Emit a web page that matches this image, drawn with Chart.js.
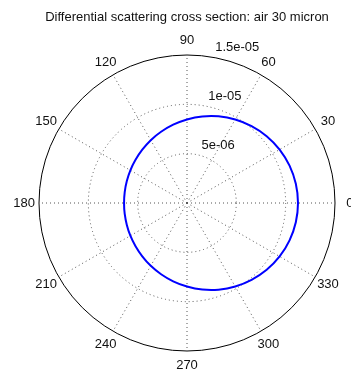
<!DOCTYPE html>
<html>
<head>
<meta charset="utf-8">
<script src="https://cdn.jsdelivr.net/npm/chart.js@4/dist/chart.umd.min.js"></script>
<style>
  html, body { margin: 0; padding: 0; background: #ffffff; }
  #wrap { width: 351px; height: 373px; }
</style>
</head>
<body>
<div id="wrap"><canvas id="polar" width="351" height="373"></canvas></div>
<script>
// Scattering angle (degrees, counter-clockwise from the +x axis)
const angles = [0, 10, 20, 30, 40, 50, 60, 70, 80, 90, 100, 110, 120, 130, 140, 150, 160, 170,
                180, 190, 200, 210, 220, 230, 240, 250, 260, 270, 280, 290, 300, 310, 320, 330, 340, 350];

// Differential scattering cross section at each angle
const crossSection = [
  1.125e-05, 1.120e-05, 1.106e-05, 1.084e-05, 1.054e-05, 1.018e-05, 9.78e-06, 9.35e-06, 8.91e-06,
  8.47e-06, 8.06e-06, 7.68e-06, 7.35e-06, 7.05e-06, 6.81e-06, 6.63e-06, 6.49e-06, 6.41e-06,
  6.38e-06, 6.41e-06, 6.49e-06, 6.63e-06, 6.81e-06, 7.05e-06, 7.35e-06, 7.68e-06, 8.06e-06,
  8.47e-06, 8.91e-06, 9.35e-06, 9.78e-06, 1.018e-05, 1.054e-05, 1.084e-05, 1.106e-05, 1.120e-05
];

// Spoke angles that carry a label
const spokeAngles = [0, 30, 60, 90, 120, 150, 180, 210, 240, 270, 300, 330];

// Radial rings and their labels
const ringValues = [5e-06, 1e-05, 1.5e-05];
const ringLabels = ['5e-06', '1e-05', '1.5e-05'];

const rMax = 1.5e-05;
const rStep = 5e-06;
const FONT = "'Liberation Sans', Arial, Helvetica, sans-serif";

// The radial scale runs clockwise, so walk the angle list backwards from 0°
const n = angles.length;
const order = angles.map((_, i) => (n - i) % n);
const chartLabels = order.map(k => String(angles[k]));
const chartData = order.map(k => crossSection[k]);

function angleOfIndex(i) { return angles[order[i]]; }

// Angle labels around the rim and ring labels along the 82° ray
const polarLabels = {
  id: 'polarLabels',
  afterDraw(chart) {
    const scale = chart.scales.r;
    const ctx = chart.ctx;
    ctx.save();
    ctx.fillStyle = '#111111';
    ctx.font = '13px ' + FONT;
    ctx.textAlign = 'center';
    ctx.textBaseline = 'middle';
    const rim = scale.getDistanceFromCenterForValue(rMax) * 1.1;
    spokeAngles.forEach(a => {
      const idx = order.findIndex(k => angles[k] === a);
      const p = scale.getPointPosition(idx, rim);
      ctx.fillText(String(a), p.x, p.y);
    });
    ctx.textAlign = 'left';
    ctx.textBaseline = 'bottom';
    const tilt = -82 * Math.PI / 180;
    ringValues.forEach((v, i) => {
      const d = scale.getDistanceFromCenterForValue(v + rStep / 20);
      const p = scale.getPointPosition(0, d, tilt);
      ctx.fillText('  ' + ringLabels[i], p.x, p.y);
    });
    ctx.restore();
  }
};

new Chart(document.getElementById('polar'), {
  type: 'radar',
  data: {
    labels: chartLabels,
    datasets: [{
      data: chartData,
      borderColor: '#0000ff',
      borderWidth: 2,
      pointRadius: 0,
      pointHoverRadius: 0,
      fill: false,
      tension: 0.3
    }]
  },
  options: {
    responsive: false,
    animation: false,
    events: [],
    layout: { padding: { left: 39, right: 16, top: 0, bottom: 22 } },
    plugins: {
      legend: { display: false },
      tooltip: { enabled: false },
      title: {
        display: true,
        text: 'Differential scattering cross section: air 30 micron',
        color: '#111111',
        font: { family: FONT, size: 13, weight: 'normal' },
        padding: { top: 10, bottom: 29.4 }
      }
    },
    scales: {
      r: {
        min: 0,
        max: rMax,
        startAngle: 90,
        ticks: { stepSize: rStep, display: false },
        pointLabels: { display: false },
        grid: {
          circular: true,
          color: ctx => ctx.index === 3 ? '#000000' : '#555555',
          lineWidth: 1
        },
        border: {
          dash: ctx => ctx.index === 3 ? [] : [1, 3]
        },
        angleLines: {
          display: true,
          color: ctx => (angleOfIndex(ctx.index) % 30 === 0) ? '#555555' : 'rgba(0,0,0,0)',
          lineWidth: 1,
          borderDash: [1, 3]
        }
      }
    }
  },
  plugins: [polarLabels]
});
</script>
</body>
</html>
